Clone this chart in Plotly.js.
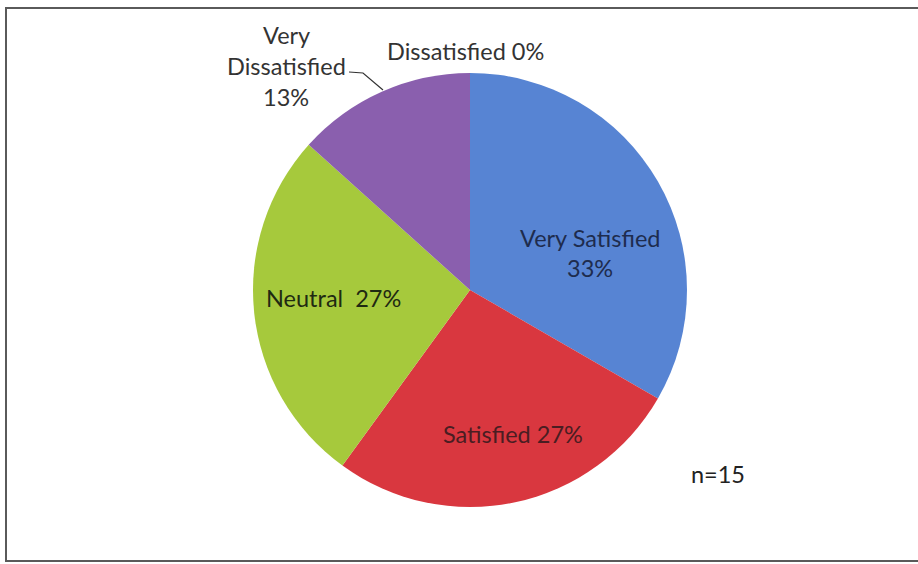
<!DOCTYPE html>
<html>
<head>
<meta charset="utf-8">
<script src="https://cdn.plot.ly/plotly-3.0.1.min.js"></script>
<style>
  html, body { margin: 0; padding: 0; background: #ffffff; }
  #chart { width: 918px; height: 564px; }
</style>
</head>
<body>
<div id="chart"></div>
<script>
// Satisfaction survey responses (n = 15)
const categories = ["Very Satisfied", "Satisfied", "Neutral", "Very Dissatisfied", "Dissatisfied"];
const counts = [5, 4, 4, 2, 0];
const sliceColors = ["#5784d3", "#d9373f", "#a6c93c", "#8a5fae", "#c46b3c"];

const W = 918, H = 564;
const px = x => x / W;
const py = y => 1 - y / H;

const total = counts.reduce((a, b) => a + b, 0);
const pct = counts.map(v => Math.round(100 * v / total) + "%");

const trace = {
  type: "pie",
  labels: categories,
  values: counts,
  sort: false,
  direction: "clockwise",
  rotation: 0,
  textinfo: "none",
  hoverinfo: "label+percent",
  marker: { colors: sliceColors, line: { width: 0 } },
  domain: { x: [px(253), px(687)], y: [py(507), py(73)] },
  showlegend: false
};

const font = "Lato, 'Open Sans', sans-serif";
const fsize = 23.5;

// label lines per slice: [lines, centre x, first line y, colour]
const labelSpecs = [
  [[categories[0], pct[0]], 590, 238, "#1e2c4e"],
  [[categories[1] + " " + pct[1]], 513, 434, "#4a1d22"],
  [[categories[2] + "  " + pct[2]], 333, 298, "#1f2a12"],
  [["Very", "Dissatisfied", pct[3]], 286, 35, "#333333"],
  [[categories[4] + " " + pct[4]], 465, 51, "#333333"]
];

const annotations = [];
labelSpecs.forEach(([lines, cx, y0, col]) => {
  const step = lines.length === 3 ? 31 : 30;
  lines.forEach((t, i) => {
    annotations.push({
      xref: "paper", yref: "paper",
      x: px(cx), y: py(y0 + i * step),
      xanchor: "center", yanchor: "middle",
      text: t, showarrow: false,
      font: { family: font, size: fsize, color: col }
    });
  });
});
annotations.push({
  xref: "paper", yref: "paper",
  x: px(718), y: py(474),
  xanchor: "center", yanchor: "middle",
  text: "n=" + total, showarrow: false,
  font: { family: font, size: fsize, color: "#222222" }
});

const shapes = [
  // chart frame
  { type: "rect", xref: "paper", yref: "paper",
    x0: px(6), x1: px(925), y0: py(561), y1: py(8),
    line: { color: "#5a5a5a", width: 2 }, fillcolor: "rgba(0,0,0,0)" },
  // leader line for the Very Dissatisfied label
  { type: "path", xref: "paper", yref: "paper",
    path: `M ${px(349)} ${py(72)} L ${px(363)} ${py(73)} L ${px(383)} ${py(90)}`,
    line: { color: "#333333", width: 1.2 } }
];

const layout = {
  width: W, height: H,
  margin: { l: 0, r: 0, t: 0, b: 0 },
  paper_bgcolor: "#ffffff",
  plot_bgcolor: "#ffffff",
  annotations: annotations,
  shapes: shapes
};

Plotly.newPlot("chart", [trace], layout, { displayModeBar: false, staticPlot: true });
</script>
</body>
</html>
